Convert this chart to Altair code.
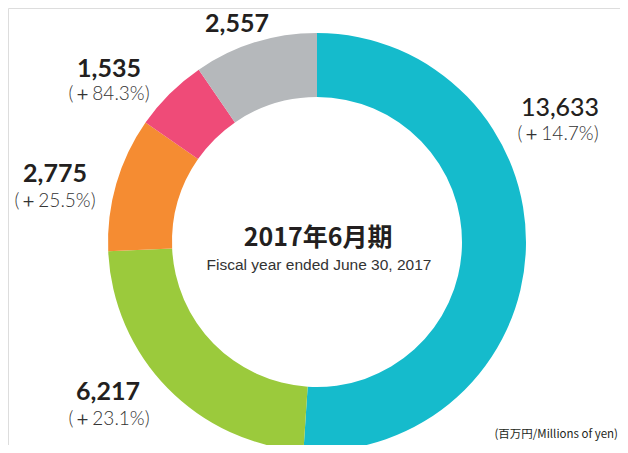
import altair as alt
import pandas as pd

segments = ["A", "B", "C", "D", "E"]
values = [13633, 6217, 2775, 1535, 2557]
changes = ["(＋14.7%)", "(＋23.1%)", "(＋25.5%)", "(＋84.3%)", ""]
colors = ["#15BBCC", "#9BCA3C", "#F58C32", "#EF4B78", "#B5B8BB"]
title_jp = "2017年6月期"
title_en = "Fiscal year ended June 30, 2017"
unit_note = "(百万円/Millions of yen)"

df = pd.DataFrame({"segment": segments, "value": values, "order": list(range(len(segments)))})

W, H = 612, 437
CX, CY = 309, 234

donut = alt.Chart(df).mark_arc(outerRadius=209, innerRadius=145, stroke=None).encode(
    theta=alt.Theta("value:Q", stack=True),
    order=alt.Order("order:Q"),
    color=alt.Color("segment:N", scale=alt.Scale(domain=segments, range=colors), legend=None),
    x=alt.value(CX),
    y=alt.value(CY),
)

# label anchor positions (page px minus 8px margin)
num_pos = [(552, 100), (100, 384), (47, 166), (101, 61), (229, 16)]
pct_pos = [(550, 126), (101, 411), (47, 193), (101, 86), (229, 40)]

layers = [donut]
for i, seg in enumerate(segments):
    nx, ny = num_pos[i]
    layers.append(
        alt.Chart(pd.DataFrame({"t": [f"{values[i]:,}"]})).mark_text(
            font="Lato", fontSize=25, fontWeight=500 if i == 0 else "bold",
            color="#231F20", align="center", baseline="middle",
        ).encode(text="t:N", x=alt.value(nx), y=alt.value(ny))
    )
    if changes[i]:
        px, py = pct_pos[i]
        layers.append(
            alt.Chart(pd.DataFrame({"t": [changes[i]]})).mark_text(
                font="Lato", fontSize=19, fontWeight=300,
                color="#333333", align="center", baseline="middle",
            ).encode(text="t:N", x=alt.value(px), y=alt.value(py))
        )

layers.append(
    alt.Chart(pd.DataFrame({"t": [title_jp]})).mark_text(
        font="Noto Sans CJK JP", fontSize=25, fontWeight="bold", color="#231F20",
        align="center", baseline="middle",
    ).encode(text="t:N", x=alt.value(310), y=alt.value(230))
)
layers.append(
    alt.Chart(pd.DataFrame({"t": [title_en]})).mark_text(
        font="Liberation Sans", fontSize=15.5, color="#333333",
        align="center", baseline="middle",
    ).encode(text="t:N", x=alt.value(311), y=alt.value(257))
)
layers.append(
    alt.Chart(pd.DataFrame({"t": [unit_note]})).mark_text(
        font="Noto Sans CJK JP", fontSize=11.5, color="#231F20",
        align="right", baseline="middle",
    ).encode(text="t:N", x=alt.value(610), y=alt.value(427))
)

chart = alt.layer(*layers).properties(
    width=W, height=H, padding=0, autosize=alt.AutoSizeParams(type="none")
).configure_view(stroke=None).configure(background="white")

chart.save("out.html", embed_options={"renderer": "svg", "actions": False})
